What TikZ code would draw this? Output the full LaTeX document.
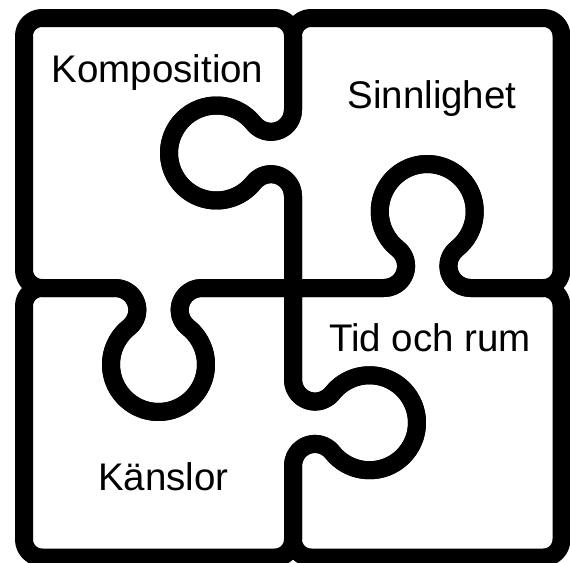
\documentclass[tikz,border=0pt]{standalone}
\usepackage{fontspec}
\setmainfont{Liberation Sans}
\begin{document}
\begin{tikzpicture}[x=1pt,y=-1pt,
  piece/.style={line width=18pt, line join=round, draw=black},
  txt/.style={font=\fontsize{38.5}{46}\selectfont, inner sep=0pt, anchor=base}]
\useasboundingbox (0,0) rectangle (570,562);
% top-left piece
\draw[piece] (24,36) arc[start angle=180,end angle=270,radius=18] -- (275,18)
  arc[start angle=270,end angle=360,radius=18] -- (293,109.87)
  arc[start angle=0,end angle=141.64,radius=22]
  arc[start angle=321.64,end angle=38.36,radius=47.5]
  arc[start angle=218.36,end angle=360,radius=22] -- (293,288) -- (201.63,288)
  arc[start angle=270,end angle=128.36,radius=22]
  arc[start angle=-51.64,end angle=231.64,radius=47.5]
  arc[start angle=51.64,end angle=-90,radius=22] -- (42,288)
  arc[start angle=90,end angle=180,radius=18] -- cycle;
% top-right piece
\draw[piece] (293,288) -- (293,196.13)
  arc[start angle=360,end angle=218.36,radius=22]
  arc[start angle=38.36,end angle=321.64,radius=47.5]
  arc[start angle=141.64,end angle=0,radius=22] -- (293,36)
  arc[start angle=180,end angle=270,radius=18] -- (543.5,18)
  arc[start angle=270,end angle=360,radius=18] -- (561.5,270)
  arc[start angle=0,end angle=90,radius=18] -- (470.38,288)
  arc[start angle=90,end angle=231.64,radius=22]
  arc[start angle=51.64,end angle=-231.64,radius=47.5]
  arc[start angle=-51.64,end angle=90,radius=22] -- cycle;
% bottom-left piece
\draw[piece] (24,306) arc[start angle=180,end angle=270,radius=18] -- (115.37,288)
  arc[start angle=-90,end angle=51.64,radius=22]
  arc[start angle=231.64,end angle=-51.64,radius=47.5]
  arc[start angle=128.36,end angle=270,radius=22] -- (293,288) -- (293,379.62)
  arc[start angle=180,end angle=38.36,radius=22]
  arc[start angle=-141.64,end angle=141.64,radius=47.5]
  arc[start angle=-38.36,end angle=-180,radius=22] -- (293,539.5)
  arc[start angle=0,end angle=90,radius=18] -- (42,557.5)
  arc[start angle=90,end angle=180,radius=18] -- cycle;
% bottom-right piece
\draw[piece] (293,288) -- (384.12,288)
  arc[start angle=90,end angle=-51.64,radius=22]
  arc[start angle=-231.64,end angle=51.64,radius=47.5]
  arc[start angle=231.64,end angle=90,radius=22] -- (543.5,288)
  arc[start angle=270,end angle=360,radius=18] -- (561.5,539.5)
  arc[start angle=0,end angle=90,radius=18] -- (311,557.5)
  arc[start angle=90,end angle=180,radius=18] -- (293,465.88)
  arc[start angle=-180,end angle=-38.36,radius=22]
  arc[start angle=141.64,end angle=-141.64,radius=47.5]
  arc[start angle=38.36,end angle=180,radius=22] -- cycle;
% labels
\node[txt] (komp) at (157.5,82) {Komposition};
\node[txt] (sinn) at (432,108) {Sinnlighet};
\node[txt] (tid) at (430,351) {Tid och rum};
\node[txt] (kans) at (163.5,490) {Känslor};
\end{tikzpicture}
\end{document}
